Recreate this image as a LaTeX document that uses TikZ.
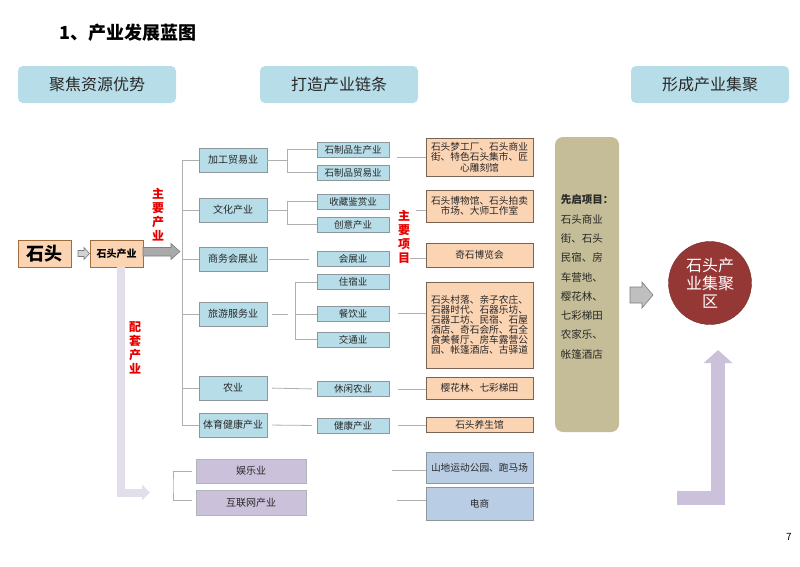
\documentclass[tikz,border=0pt]{standalone}
\usepackage{fontspec}
\setmainfont{Noto Sans CJK SC}
\usetikzlibrary{arrows.meta}
\definecolor{hdrblue}{RGB}{183,221,232}
\definecolor{boxblue}{RGB}{183,221,232}
\definecolor{bordgray}{RGB}{140,150,155}
\definecolor{peach}{RGB}{251,212,180}
\definecolor{peachbd}{RGB}{120,100,85}
\definecolor{stonebd}{RGB}{160,110,60}
\definecolor{khaki}{RGB}{196,189,151}
\definecolor{lilac}{RGB}{204,193,218}
\definecolor{lilacl}{RGB}{226,222,236}
\definecolor{skyb}{RGB}{185,205,229}
\definecolor{dred}{RGB}{149,55,53}
\definecolor{linegray}{RGB}{175,175,175}
\definecolor{txt}{RGB}{40,40,40}
\definecolor{redt}{RGB}{230,0,0}
\definecolor{arrfill}{RGB}{170,170,170}
\definecolor{arrbd}{RGB}{125,125,125}
\tikzset{
  hdr/.style={fill=hdrblue, rounded corners=5pt, minimum width=158pt, minimum height=37pt, inner sep=0pt, font=\fontsize{16}{18}\selectfont},
  lvone/.style={draw=bordgray, fill=boxblue, minimum width=68pt, minimum height=24pt, inner sep=0pt, font=\fontsize{10}{12}\selectfont},
  lvtwo/.style={draw=bordgray, fill=boxblue, minimum width=72pt, minimum height=15pt, inner sep=0pt, font=\fontsize{9.5}{11}\selectfont},
  proj/.style={draw=peachbd, fill=peach, minimum width=107pt, inner sep=0pt, align=center, font=\fontsize{9.7}{10.5}\selectfont},
  projb/.style={proj, draw=bordgray, fill=skyb},
  supp/.style={draw=bordgray!70, fill=lilac, minimum width=110pt, inner sep=0pt, font=\fontsize{10}{12}\selectfont},
  conn/.style={draw=linegray, line width=0.8pt},
  redv/.style={text=redt, font=\bfseries\fontsize{12}{14}\selectfont, align=center, inner sep=0pt},
  blockarr/.style={fill=arrfill, draw=arrbd, line width=0.6pt},
  every node/.style={text=txt}
}
\begin{document}
\begin{tikzpicture}[x=1pt,y=-1pt]
\path[use as bounding box] (0,0) rectangle (800,566);

% title and headers
\node[anchor=west, font=\bfseries\fontsize{18}{20}\selectfont, text=black, inner sep=0pt] (title) at (59,33) {1、产业发展蓝图};
\node[hdr] (h1) at (97,84.5) {聚焦资源优势};
\node[hdr] (h2) at (339,84.5) {打造产业链条};
\node[hdr] (h3) at (710,84.5) {形成产业集聚};

% left
\node[draw=stonebd, fill=peach, line width=0.8pt, minimum width=53pt, minimum height=27pt, inner sep=0pt, font=\bfseries\fontsize{18}{20}\selectfont, text=black] (stone) at (44.5,253.5) {石头};
\node[draw=stonebd, fill=peach, line width=0.8pt, minimum width=53pt, minimum height=27pt, inner sep=0pt, font=\bfseries\fontsize{10}{12}\selectfont, text=black] (sind) at (116.5,253.5) {石头产业};
\draw[blockarr, fill=lightgray!70] (78,250.5) -- (84,250.5) -- (84,247.5) -- (89.5,253.5) -- (84,259.5) -- (84,256.5) -- (78,256.5) -- cycle;
\draw[blockarr] (143,247.5) -- (171,247.5) -- (171,243.5) -- (180,251.5) -- (171,259.5) -- (171,256) -- (143,256) -- cycle;

\node[redv] (m1) at (158,215) {主\\要\\产\\业};
\node[redv] (m2) at (135,347.5) {配\\套\\产\\业};
\node[redv] (m3) at (404,236.5) {主\\要\\项\\目};

\coordinate (la) at (150,492.5);
\draw[lilacl, line width=8pt, -{Triangle[length=8pt,width=15pt]}] ([xshift=4.5pt]sind.south) |- (la);

% level one
\node[lvone] (a1) at (233,160) {加工贸易业};
\node[lvone] (a2) at (233,210) {文化产业};
\node[lvone] (a3) at (233,259) {商务会展业};
\node[lvone] (a4) at (233,314) {旅游服务业};
\node[lvone] (a5) at (233,388) {农业};
\node[lvone] (a6) at (233,425) {体育健康产业};

% level two
\node[lvtwo] (b11) at (353,149.5) {石制品生产业};
\node[lvtwo] (b12) at (353,172.5) {石制品贸易业};
\node[lvtwo] (b21) at (353,201.5) {收藏鉴赏业};
\node[lvtwo] (b22) at (353,224.5) {创意产业};
\node[lvtwo] (b31) at (353,259) {会展业};
\node[lvtwo] (b41) at (353,282) {住宿业};
\node[lvtwo] (b42) at (353,314) {餐饮业};
\node[lvtwo] (b43) at (353,339.5) {交通业};
\node[lvtwo] (b51) at (353,389) {休闲农业};
\node[lvtwo] (b61) at (353,425.5) {健康产业};

% level three
\node[proj, minimum height=38pt] (c1) at (479.5,157) {石头梦工厂、石头商业\\街、特色石头集市、匠\\心雕刻馆};
\node[proj, minimum height=32pt] (c2) at (479.5,206) {石头博物馆、石头拍卖\\市场、大师工作室};
\node[proj, minimum height=24pt] (c3) at (479.5,255) {奇石博览会};
\node[proj, minimum height=86pt, font=\fontsize{9.7}{10}\selectfont] (c4) at (479.5,325) {石头村落、亲子农庄、\\石器时代、石器乐坊、\\石器工坊、民宿、石屋\\酒店、奇石会所、石全\\食美餐厅、房车露营公\\园、帐篷酒店、古驿道};
\node[proj, minimum height=22pt] (c5) at (479.5,388) {樱花林、七彩梯田};
\node[proj, minimum height=15pt] (c6) at (479.5,424.5) {石头养生馆};
\node[projb, minimum height=31pt] (c7) at (479.5,467.5) {山地运动公园、跑马场};
\node[projb, minimum height=33pt] (c8) at (479.5,503.5) {电商};

% supporting
\node[supp, minimum height=24pt] (s1) at (251,471) {娱乐业};
\node[supp, minimum height=25pt] (s2) at (251,502.5) {互联网产业};

% trunk
\coordinate (t0) at (182,160);
\draw[conn] (a1.west -| t0) -- (a6.west -| t0);
\foreach \n in {a1,a2,a3,a4,a5,a6} \draw[conn] (\n.west -| t0) -- (\n.west);

% brackets
\draw[conn] (a1.east) -- ++(20,0) coordinate (j1);
\draw[conn] (b11.west) -| (j1);
\draw[conn] (b12.west) -| (j1);
\draw[conn] (a2.east) -- ++(20,0) coordinate (j2);
\draw[conn] (b21.west) -| (j2);
\draw[conn] (b22.west) -| (j2);
\draw[conn, shorten <=2pt, shorten >=8pt] (a3.east) -- (b31.west);
\draw[conn] ([xshift=5pt]a4.east) -- ++(16,0);
\path (a4.east) ++(28,0) coordinate (j4);
\draw[conn] (b41.west) -| (j4);
\draw[conn] (b43.west) -| (j4);
\draw[conn] (b42.west) -- (j4);
\draw[conn, shorten <=5pt, shorten >=5pt] (a5.east) -- (b51.west);
\draw[conn, shorten <=5pt, shorten >=5pt] (a6.east) -- (b61.west);

% lines to projects
\draw[conn] (c1.west) -- ++(-29,0);
\draw[conn] ([yshift=-4pt]c2.west) -- ++(-10,0);
\draw[conn] ([yshift=-3.5pt]c3.west) -- ++(-16,0);
\draw[conn] ([yshift=12pt]c4.west) -- ++(-28,0);
\draw[conn] ([yshift=-1pt]c5.west) -- ++(-28,0);
\draw[conn] ([yshift=-1pt]c6.west) -- ++(-28,0);
\draw[conn] ([yshift=-2.5pt]c7.west) -- ++(-34,0);
\draw[conn] ([yshift=3.5pt]c8.west) -- ++(-29,0);

\draw[conn] ([xshift=-4pt]s1.west) -| (173,486) |- ([xshift=-4pt,yshift=2.5pt]s2.west);

% right
\node[fill=khaki, rounded corners=8pt, minimum width=64pt, minimum height=295pt, inner sep=0pt] (kh) at (587,284.5) {};
\node[align=left, inner sep=0pt, font=\fontsize{10.5}{19.3}\selectfont] (kt) at (587,277) {\textbf{先启项目：}\\石头商业\\街、石头\\民宿、房\\车营地、\\樱花林、\\七彩梯田\\农家乐、\\帐篷酒店};
\draw[blockarr, fill=lightgray] (630,287) -- (642,287) -- (642,282) -- (653,295) -- (642,308) -- (642,303) -- (630,303) -- cycle;
\node[circle, fill=dred, draw=dred!80!black, minimum size=83pt, inner sep=0pt, text=white, align=center, font=\fontsize{16}{18}\selectfont] (circ) at (710,283) {石头产\\业集聚\\区};

\coordinate (rb) at (677,497.5);
\coordinate (rt) at (718,350);
\draw[lilac, line width=14pt, -{Triangle[length=13pt,width=28pt]}] (rb) -| (rt);

\node[font=\fontsize{10}{12}\selectfont, text=black, inner sep=0pt] (pg) at (789,537) {7};
\end{tikzpicture}
\end{document}
